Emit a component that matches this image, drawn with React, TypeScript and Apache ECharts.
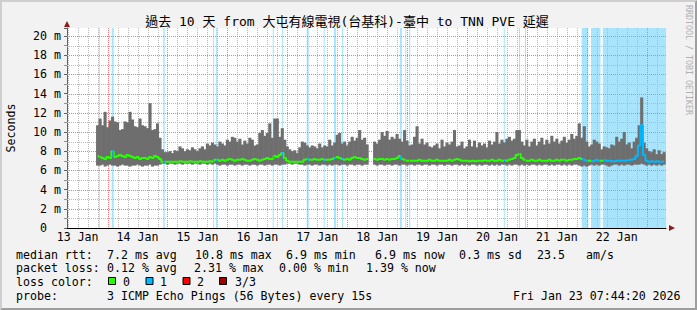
import React, { useEffect, useRef } from 'react';
import * as echarts from 'echarts';

// time is counted in hours from 13 Jan 00:00 (local)
const viewStartHour = 7.739; // 13 Jan 07:44:20
const viewEndHour = 247.739; // 23 Jan 07:44:20
const firstSampleHour = 20; // first hourly sample: 13 Jan 20:00

const dayLabels = ['13 Jan', '14 Jan', '15 Jan', '16 Jan', '17 Jan', '18 Jan', '19 Jan', '20 Jan', '21 Jan', '22 Jan'];

// smoke upper edge (ms), hourly
const smokeMax: (number | null)[] = [
  10.7, 11.4, 10.7, 12.1, 10.5, 11.2, 11.6, 11.1, 11.0, 10.2,
  10.3, 11.1, 11.0, 12.1, 11.3, 10.6, 10.5, 11.4, 10.7, 10.6,
  10.4, 13.0, 10.2, 10.3, 10.9, 9.4, 8.2, 7.9, 7.9, 8.0,
  7.8, 8.1, 8.0, 8.5, 8.3, 8.0, 8.2, 8.1, 8.4, 8.2,
  8.0, 8.3, 8.5, 8.2, 8.8, 8.6, 8.9, 8.7, 8.5, 9.0,
  8.8, 8.6, 9.2, 9.0, 9.5, 9.4, 9.0, 9.3, 8.7, 9.1,
  8.8, 9.4, 9.2, 8.6, 8.7, 9.9, 10.2, 9.6, 9.9, 10.9,
  9.4, 11.4, 11.4, 9.5, 10.4, 9.2, 8.5, 8.2, 8.0, 8.1,
  7.8, 8.4, 9.0, 8.9, 8.6, 8.4, 8.6, 8.5, 8.3, 8.8,
  8.4, 8.6, 8.5, 9.2, 8.6, 8.9, 9.7, 9.9, 8.8, 9.0,
  8.6, 9.0, 9.5, 9.1, 9.4, 10.2, 9.2, 9.4, 8.7, null,
  null, 9.0, 8.8, 9.2, 10.0, 9.6, 10.1, 9.2, 9.5, 9.3,
  9.8, 9.3, 9.0, 10.2, 9.1, 8.6, 8.7, 9.5, 10.6, 8.8,
  9.3, 8.7, 8.9, 8.5, 8.4, 8.6, 8.8, 8.3, 9.2, 8.5,
  8.9, 8.7, 9.0, 10.2, 8.5, 8.6, 9.0, 8.3, 8.5, 9.2,
  8.5, 9.1, 8.4, 8.9, 8.6, 8.8, 8.4, 9.1, 8.7, 9.0,
  10.0, 8.8, 9.2, 8.9, 9.3, 9.5, 9.1, 9.3, 10.2, 10.2,
  9.0, 8.6, 9.2, 8.5, 9.0, 9.3, 8.6, 9.0, 9.4, 8.7,
  9.2, 8.8, 9.6, 9.0, 9.3, 8.8, 9.1, 9.5, 8.9, 9.2,
  9.8, 9.3, 9.6, 10.9, 9.4, 10.6, 9.0, 8.5, 8.7, 9.2,
  9.0, 8.8, 8.2, 8.5, 8.4, 8.3, 8.7, 8.6, 9.5, 9.0,
  9.3, 10.0, 8.7, 8.9, 8.3, 9.0, 9.4, 10.7, 13.6, 8.9,
  8.3, 8.0, 7.9, 8.2, 7.7, 8.1, 7.7, 7.9,
];

// smoke lower edge (ms), hourly
const smokeMin: (number | null)[] = [
  6.5, 6.5, 6.6, 6.4, 6.5, 6.6, 6.5, 6.5, 6.4, 6.5,
  6.6, 6.5, 6.5, 6.4, 6.5, 6.5, 6.6, 6.5, 6.4, 6.5,
  6.5, 6.6, 6.4, 6.5, 6.5, 6.6, 6.7, 6.7, 6.6, 6.7,
  6.7, 6.6, 6.7, 6.7, 6.6, 6.7, 6.7, 6.7, 6.6, 6.7,
  6.7, 6.6, 6.7, 6.7, 6.6, 6.7, 6.6, 6.7, 6.6, 6.5,
  6.6, 6.6, 6.5, 6.6, 6.6, 6.5, 6.6, 6.6, 6.5, 6.6,
  6.6, 6.5, 6.6, 6.6, 6.5, 6.6, 6.6, 6.5, 6.6, 6.6,
  6.5, 6.6, 6.6, 6.5, 6.6, 6.6, 6.7, 6.7, 6.6, 6.7,
  6.7, 6.6, 6.6, 6.5, 6.6, 6.6, 6.5, 6.6, 6.6, 6.5,
  6.6, 6.6, 6.5, 6.6, 6.5, 6.6, 6.6, 6.5, 6.6, 6.6,
  6.5, 6.6, 6.6, 6.5, 6.6, 6.6, 6.5, 6.6, 6.6, null,
  null, 6.6, 6.5, 6.6, 6.6, 6.5, 6.6, 6.6, 6.5, 6.6,
  6.6, 6.5, 6.6, 6.6, 6.5, 6.6, 6.6, 6.5, 6.6, 6.6,
  6.5, 6.6, 6.6, 6.5, 6.6, 6.6, 6.5, 6.6, 6.6, 6.5,
  6.6, 6.6, 6.5, 6.6, 6.6, 6.5, 6.6, 6.5, 6.6, 6.5,
  6.6, 6.6, 6.5, 6.6, 6.5, 6.6, 6.6, 6.5, 6.6, 6.5,
  6.6, 6.5, 6.6, 6.6, 6.5, 6.6, 6.5, 6.6, 6.6, 6.5,
  6.6, 6.5, 6.6, 6.5, 6.6, 6.6, 6.5, 6.6, 6.5, 6.6,
  6.6, 6.5, 6.6, 6.5, 6.6, 6.6, 6.5, 6.6, 6.5, 6.6,
  6.5, 6.6, 6.6, 6.5, 6.4, 6.5, 6.4, 6.5, 6.6, 6.5,
  6.6, 6.5, 6.6, 6.6, 6.5, 6.4, 6.5, 6.6, 6.6, 6.5,
  6.6, 6.5, 6.6, 6.6, 6.5, 6.6, 6.6, 6.6, 6.7, 6.6,
  6.5, 6.6, 6.5, 6.6, 6.5, 6.6, 6.5, 6.6,
];

// median rtt (ms), hourly
const medianRtt: (number | null)[] = [
  7.5, 7.4, 7.3, 7.2, 7.4, 7.3, 8.0, 7.4, 7.5, 7.6,
  7.5, 7.4, 7.6, 7.5, 7.4, 7.3, 7.4, 7.2, 7.3, 7.3,
  7.2, 7.4, 7.3, 7.5, 7.4, 7.2, 6.9, 6.9, 6.9, 6.9,
  6.9, 6.9, 6.9, 6.95, 6.9, 6.9, 6.9, 6.95, 6.9, 6.9,
  6.9, 6.95, 6.9, 6.9, 6.9, 6.95, 6.9, 7.1, 7.1, 7.0,
  7.1, 7.0, 7.1, 7.2, 7.1, 7.0, 7.1, 7.1, 7.2, 7.1,
  7.0, 7.0, 7.1, 7.2, 7.1, 7.0, 7.1, 7.2, 7.3, 7.2,
  7.2, 7.5, 7.4, 7.6, 7.8, 7.3, 7.0, 6.9, 6.9, 6.9,
  6.9, 6.9, 6.9, 7.1, 7.2, 7.1, 7.1, 7.2, 7.1, 7.1,
  7.2, 7.1, 7.1, 7.1, 7.2, 7.3, 7.4, 7.3, 7.2, 7.1,
  7.2, 7.1, 7.3, 7.4, 7.3, 7.3, 7.2, 7.1, 7.2, null,
  null, 7.2, 7.1, 7.2, 7.2, 7.1, 7.2, 7.1, 7.2, 7.2,
  7.3, 7.5, 7.2, 7.1, 7.0, 7.0, 7.0, 7.0, 7.0, 7.1,
  7.0, 7.0, 7.0, 7.1, 7.0, 7.0, 7.1, 7.0, 7.0, 7.0,
  7.0, 7.1, 7.0, 7.1, 7.2, 7.1, 7.0, 7.0, 7.0, 6.95,
  7.0, 6.95, 7.0, 7.0, 7.0, 7.05, 7.0, 7.0, 7.1, 7.0,
  7.0, 7.1, 7.0, 7.05, 7.0, 7.1, 7.2, 7.3, 7.6, 7.7,
  7.3, 7.1, 7.0, 7.0, 7.1, 7.0, 7.0, 7.1, 7.0, 7.0,
  7.0, 7.1, 7.0, 7.0, 7.1, 7.0, 7.1, 7.1, 7.0, 7.1,
  7.1, 7.2, 7.2, 7.3, 7.2, 7.1, 7.0, 7.0, 6.95, 7.0,
  7.1, 7.0, 7.0, 7.05, 7.0, 7.0, 6.95, 6.95, 7.0, 7.0,
  7.0, 7.0, 7.05, 7.1, 7.1, 7.2, 7.5, 8.6, 10.7, 7.6,
  7.0, 6.9, 6.95, 6.9, 6.95, 6.9, 6.9, 6.95,
];

// periods with packet loss (hours from 13 Jan 00:00)
const lossStart = [20.48, 25.65, 46.3, 66.3, 67.48, 90.15, 93.95, 103.8, 110.58, 114.7, 117.92, 141.1, 143.28, 144.82, 182.75, 188.82, 191.22, 213.95, 217.7, 222.4];
const lossEnd = [20.88, 26.45, 46.9, 66.7, 67.88, 90.55, 94.35, 104.6, 110.98, 115.5, 118.32, 141.9, 143.68, 145.26, 183.15, 189.24, 191.64, 216.6, 221.5, 247.739];

const titleText = '過去 10 天 from 大屯有線電視(台基科)-臺中 to TNN PVE 延遲';
const yAxisTitle = 'Seconds';
const watermark = 'RRDTOOL / TOBI OETIKER';
const rttRow = ['median rtt:', '7.2 ms avg', '10.8 ms max', '6.9 ms min', '6.9 ms now', '0.3 ms sd', '23.5', 'am/s'];
const lossRow = ['packet loss:', '0.12 % avg', '2.31 % max', '0.00 % min', '1.39 % now'];
const lossColorLabels = ['0', '1', '2', '3/3'];
const probeRow = ['probe:', '3 ICMP Echo Pings (56 Bytes) every 15s', 'Fri Jan 23 07:44:20 2026'];

const MONO = "'DejaVu Sans Mono', 'Noto Sans CJK TC', monospace";
const FS = 11.6;
const lossColors = ['#26ff00', '#00b8ff', '#ff0000', '#a10000'];
const lossBg = '#a8e4fc';
const smokeColor = '#6e6e6e';
const minorGrid = '#b8b8b8';
const majorGrid = '#f47a7a';

const rttX = [16, 107, 195, 286, 375, 459, 537, 586];
const lossX = [16, 107, 194, 279, 366];
const boxX = [108, 145.5, 182.5, 219];
const boxLabelX = [123, 160, 197, 235];
const probeX = [16, 107, 513];

function txt(text: string, x: number, y: number, extra: any = {}) {
  return {
    type: 'text',
    x,
    y,
    silent: true,
    style: {
      text,
      fontFamily: MONO,
      fontSize: FS,
      fill: '#000',
      align: 'left',
      verticalAlign: 'middle',
      textAlign: 'left',
      textVerticalAlign: 'middle',
      ...extra,
    },
  };
}

export default function App() {
  const ref = useRef<HTMLDivElement>(null);
  useEffect(() => {
    if (!ref.current) return;
    const chart = echarts.init(ref.current, null, { renderer: 'svg' });

    const hours = smokeMax.map((_, i) => firstSampleHour + i);
    const smokeData = hours.map((h, i) => [h, smokeMin[i], smokeMax[i]]);
    const medianData = hours.map((h, i) => [h, medianRtt[i]]);

    const majorHours: number[] = [];
    const minorHours: number[] = [];
    for (let h = 8; h < viewEndHour; h += 4) {
      if (h % 24 === 0) majorHours.push(h);
      else minorHours.push(h);
    }
    const labelHours = dayLabels.map((_, i) => 12 + 24 * i);
    const minorY: number[] = [];
    const majorY: number[] = [];
    for (let v = 1; v <= 20; v++) (v % 2 === 0 ? majorY : minorY).push(v);

    const vGrid = (list: number[], color: string) => ({
      type: 'custom',
      z: 2,
      silent: true,
      data: list.map((h) => [h, 0]),
      renderItem: (params: any, api: any) => {
        const cs = params.coordSys;
        const x = Math.round(api.coord([api.value(0), 0])[0]) + 0.5;
        return {
          type: 'line',
          shape: { x1: x, y1: cs.y, x2: x, y2: cs.y + cs.height },
          style: { stroke: color, lineWidth: 1, lineDash: [1, 1] },
        };
      },
    });
    const hGrid = (list: number[], color: string) => ({
      type: 'custom',
      z: 2,
      silent: true,
      data: list.map((v) => [viewStartHour, v]),
      renderItem: (params: any, api: any) => {
        const cs = params.coordSys;
        const y = Math.round(api.coord([viewStartHour, api.value(1)])[1]) + 0.5;
        return {
          type: 'line',
          shape: { x1: cs.x, y1: y, x2: cs.x + cs.width, y2: y },
          style: { stroke: color, lineWidth: 1, lineDash: [1, 1] },
        };
      },
    });

    const graphics: any[] = [
      // 3d frame
      { type: 'polygon', silent: true, shape: { points: [[0, 310], [2, 308], [2, 2], [695, 2], [697, 0], [0, 0]] }, style: { fill: '#cfcfcf' } },
      { type: 'polygon', silent: true, shape: { points: [[2, 308], [695, 308], [695, 2], [697, 0], [697, 310], [0, 310]] }, style: { fill: '#9e9e9e' } },
      txt(titleText, 347, 21, { align: 'center', textAlign: 'center', fontSize: 13 }),
      { ...txt(yAxisTitle, 11, 128, { align: 'center', textAlign: 'center' }), rotation: Math.PI / 2 },
      { ...txt(watermark, 688.5, 5, { fontSize: 8.3, fill: '#b0b0b0' }), rotation: -Math.PI / 2 },
      // axis arrows
      { type: 'polygon', silent: true, shape: { points: [[64, 27], [70, 27], [67, 21]] }, style: { fill: '#8e1a1a' } },
      { type: 'polygon', silent: true, shape: { points: [[669, 225], [669, 231], [675, 228]] }, style: { fill: '#8e1a1a' } },
    ];
    rttRow.forEach((t, i) => graphics.push(txt(t, rttX[i], 254.5)));
    lossRow.forEach((t, i) => graphics.push(txt(t, lossX[i], 268)));
    graphics.push(txt('loss color:', 16, 281.5));
    lossColorLabels.forEach((t, i) => {
      graphics.push({
        type: 'rect',
        silent: true,
        shape: { x: boxX[i] + 0.5, y: 277.5, width: 7, height: 7 },
        style: { fill: lossColors[i], stroke: '#000', lineWidth: 1 },
      });
      graphics.push(txt(t, boxLabelX[i], 281.5));
    });
    probeRow.forEach((t, i) => graphics.push(txt(t, probeX[i], 296)));

    const option: any = {
      animation: false,
      backgroundColor: '#f2f2f2',
      grid: { left: 67, right: 31, top: 28, bottom: 82, show: true, backgroundColor: '#ffffff', borderWidth: 0 },
      xAxis: {
        type: 'value',
        min: viewStartHour,
        max: viewEndHour,
        splitLine: { show: false },
        axisLine: { show: true, onZero: false, lineStyle: { color: '#000', width: 1 } },
        axisTick: { show: false },
        axisLabel: {
          customValues: labelHours,
          margin: 3,
          color: '#000',
          fontFamily: MONO,
          fontSize: FS,
          formatter: (v: number) => {
            const k = (v - 12) / 24;
            return Math.abs(k - Math.round(k)) < 1e-6 ? dayLabels[Math.round(k)] ?? '' : '';
          },
        },
      },
      yAxis: {
        type: 'value',
        min: 0,
        max: 20.833,
        interval: 2,
        splitLine: { show: false },
        axisLine: { show: true, lineStyle: { color: '#606060', width: 1 } },
        axisTick: { show: true, length: 3, lineStyle: { color: '#606060' } },
        minorTick: { show: true, splitNumber: 2, length: 3, lineStyle: { color: '#909090' } },
        axisLabel: {
          margin: 6,
          color: '#000',
          fontFamily: MONO,
          fontSize: FS,
          rich: { z: { fontFamily: MONO, fontSize: FS, color: '#000', padding: [0, 14, 0, 0] } },
          formatter: (v: number) => {
            if (v === 0) return '{z|0}';
            if (Math.abs(v % 2) < 1e-6 && v <= 20) return `${v} m`;
            return '';
          },
        },
      },
      visualMap: {
        type: 'piecewise',
        show: false,
        seriesIndex: 6,
        dimension: 0,
        pieces: lossStart.map((s, i) => ({ gte: s, lt: lossEnd[i], color: lossColors[1] })),
        outOfRange: { color: lossColors[0] },
      },
      series: [
        {
          type: 'custom',
          z: 1,
          silent: true,
          data: lossStart.map((s, i) => [s, lossEnd[i]]),
          renderItem: (params: any, api: any) => {
            const cs = params.coordSys;
            const x1 = api.coord([api.value(0), 0])[0];
            const x2 = api.coord([api.value(1), 0])[0];
            return {
              type: 'rect',
              shape: { x: x1, y: cs.y, width: Math.max(1, x2 - x1), height: cs.height },
              style: { fill: lossBg },
            };
          },
        },
        vGrid(minorHours, minorGrid),
        vGrid(majorHours, majorGrid),
        hGrid(minorY, minorGrid),
        hGrid(majorY, majorGrid),
        {
          type: 'custom',
          z: 3,
          silent: true,
          data: smokeData,
          encode: { x: 0, y: [1, 2] },
          renderItem: (params: any, api: any) => {
            const h = api.value(0);
            const lo = api.value(1);
            const hi = api.value(2);
            if (isNaN(lo) || isNaN(hi)) return null;
            const p0 = api.coord([h - 0.5, hi]);
            const p1 = api.coord([h + 0.5, lo]);
            return {
              type: 'rect',
              shape: { x: p0[0] - 0.3, y: p0[1], width: p1[0] - p0[0] + 0.6, height: p1[1] - p0[1] },
              style: { fill: smokeColor },
            };
          },
        },
        {
          type: 'line',
          z: 4,
          silent: true,
          step: 'middle',
          symbol: 'none',
          data: medianData,
          lineStyle: { width: 2 },
        },
      ],
      graphic: graphics,
    };
    chart.setOption(option);
    return () => chart.dispose();
  }, []);
  return <div ref={ref} style={{ position: 'fixed', left: 0, top: 0, width: 697, height: 310 }} />;
}
